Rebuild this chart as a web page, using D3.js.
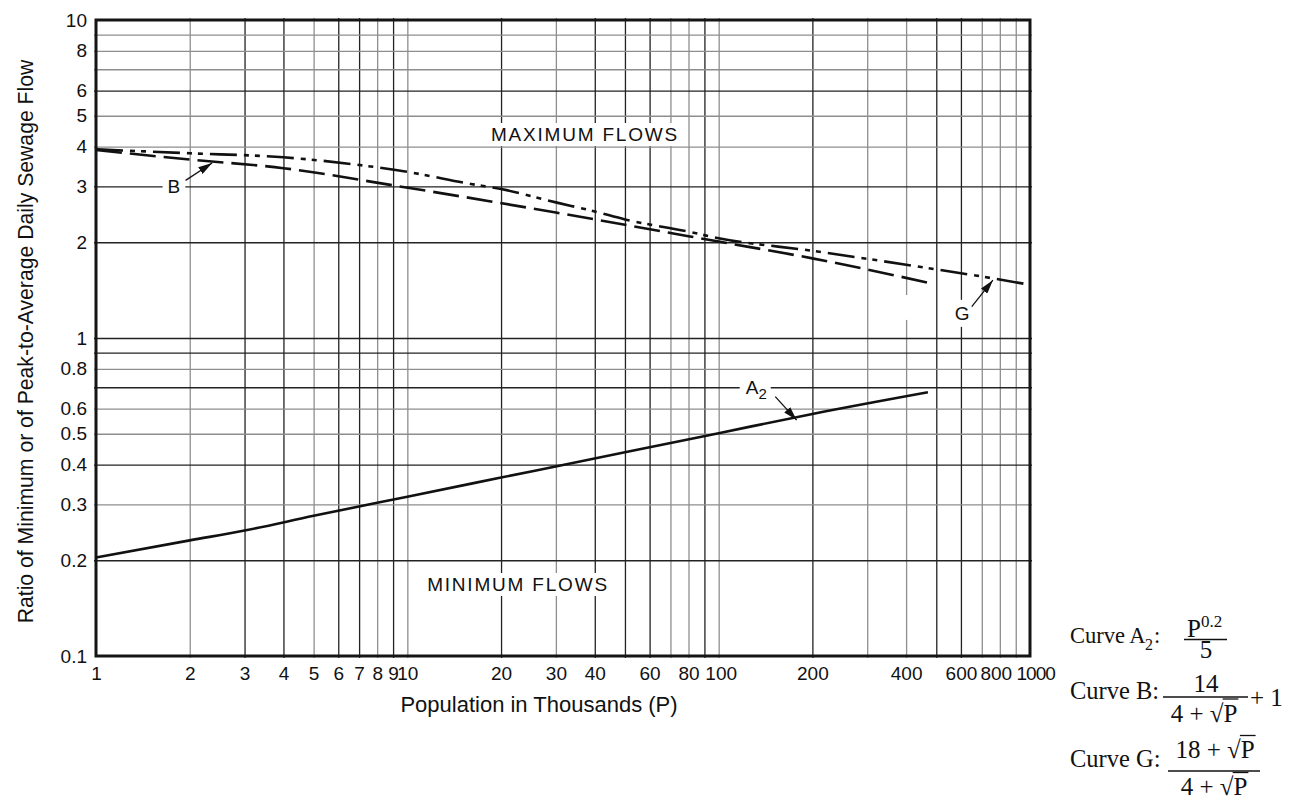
<!DOCTYPE html>
<html><head><meta charset="utf-8">
<script src="https://cdn.jsdelivr.net/npm/d3@7"></script>
<style>body{margin:0;background:#fff} svg{display:block}</style>
</head><body>
<svg id="chart" width="1301" height="806"></svg>
<script>
// ---------------- data ----------------
const xTickValues = [1,2,3,4,5,6,7,8,9,10,20,30,40,60,80,100,200,400,600,800,1000];
const xGridValues = [2,3,4,5,6,7,8,9,10,20,30,40,50,60,70,80,90,100,200,300,400,500,600,700,800,900];
const yTickValues = [0.1,0.2,0.3,0.4,0.5,0.6,0.8,1,2,3,4,5,6,8,10];
const yGridValues = [0.2,0.3,0.4,0.5,0.6,0.7,0.8,0.9,1,2,3,4,5,6,7,8,9];

const curveA2P = [1,2,3,5,10,20,50,100,200,470];
const curveA2V = [0.204,0.231,0.248,0.276,0.317,0.364,0.437,0.502,0.577,0.675];
const curveBP  = [1,2,4,9,30,50,100,200,490];
const curveBV  = [3.9,3.64,3.42,3.02,2.48,2.27,2.01,1.78,1.48];
const curveGP  = [1,2,4,7,10,16,20,30,40,50,80,100,200,400,760,1000];
const curveGV  = [3.92,3.81,3.70,3.50,3.33,3.05,2.94,2.67,2.50,2.36,2.16,2.06,1.88,1.70,1.54,1.47];

const xTitle = "Population in Thousands (P)";
const yTitle = "Ratio of Minimum or of Peak-to-Average Daily Sewage Flow";
const maxLabel = "MAXIMUM FLOWS";
const minLabel = "MINIMUM FLOWS";

// ---------------- styling ----------------
const darkX = new Set([3,4,6,7,9,20,40,50,60,90,200,500,600]);
const darkY = new Set([6,3,2,1,0.9,0.7,0.4,0.2]);
const DARK = "#222", GREY = "#8e8e8e";
const SANS = "'Liberation Sans', Arial, Helvetica, sans-serif";
const SERIF = "'Liberation Serif', 'Times New Roman', serif";

const svg = d3.select("#chart");
const x = d3.scaleLog().domain([1,1000]).range([96,1030]);
const y = d3.scaleLog().domain([0.1,10]).range([656,20]);
const [L,R] = x.range(), [B,T] = y.range();

// ---------------- grid ----------------
const gGridX = svg.append("g").attr("transform",`translate(0,${B+2})`)
  .call(d3.axisBottom(x).tickValues(xGridValues).tickFormat("").tickSize(-(B-T+4)).tickSizeOuter(0));
gGridX.select(".domain").remove();
gGridX.selectAll(".tick line").attr("stroke", d => darkX.has(d) ? DARK : GREY).attr("stroke-width",1.3);

const gGridY = svg.append("g").attr("transform",`translate(${L-2},0)`)
  .call(d3.axisLeft(y).tickValues(yGridValues).tickFormat("").tickSize(-(R-L+4)).tickSizeOuter(0));
gGridY.select(".domain").remove();
gGridY.selectAll(".tick line").attr("stroke", d => darkY.has(d) ? DARK : GREY).attr("stroke-width",1.3);

// scan artifact gap on the 400 line
svg.append("rect").attr("x", x(400)-2).attr("y", y(1.365)).attr("width",4)
  .attr("height", y(1.14)-y(1.365)).attr("fill","#fff");

// ---------------- text labels with white backgrounds ----------------
function boxedText(px, py, str, opts) {
  const g = svg.append("g");
  const t = g.append("text").attr("x",px).attr("y",py).text(str)
    .attr("font-family",SANS).attr("font-size",opts.size).attr("fill","#111")
    .attr("text-anchor",opts.anchor||"middle")
    .attr("letter-spacing",opts.ls||0);
  const bb = t.node().getBBox();
  g.insert("rect","text").attr("x",bb.x-opts.padX).attr("y",bb.y-opts.padY)
    .attr("width",bb.width+2*opts.padX).attr("height",bb.height+2*opts.padY).attr("fill","#fff");
  return t;
}
boxedText(585, 141, maxLabel, {size:19, ls:1.8, padX:3, padY:1});
boxedText(518, 591, minLabel, {size:19, ls:1.8, padX:3, padY:1});

boxedText(x(1.78), y(3)+7, "B", {size:19, padX:5, padY:0});
boxedText(x(605), y(1.2)+7, "G", {size:19, padX:2, padY:3});
(function(){
  const g = svg.append("g");
  const t = g.append("text").attr("x", x(132)).attr("y", y(0.7)+7)
    .attr("font-family",SANS).attr("font-size",19).attr("fill","#111").attr("text-anchor","middle");
  t.append("tspan").text("A");
  t.append("tspan").text("2").attr("font-size",15).attr("dy",5);
  const bb = t.node().getBBox();
  g.insert("rect","text").attr("x",bb.x-6).attr("y",bb.y).attr("width",bb.width+10)
    .attr("height",bb.height).attr("fill","#fff");
})();

// ---------------- frame ----------------
svg.append("rect").attr("x",L).attr("y",T).attr("width",R-L).attr("height",B-T)
  .attr("fill","none").attr("stroke","#151515").attr("stroke-width",3);

// ---------------- curves ----------------
const line = d3.line().x(d=>x(d[0])).y(d=>y(d[1])).curve(d3.curveMonotoneX);
svg.append("path").datum(d3.zip(curveA2P,curveA2V)).attr("d",line)
  .attr("fill","none").attr("stroke","#111").attr("stroke-width",2.6);
svg.append("path").datum(d3.zip(curveBP,curveBV)).attr("d",line)
  .attr("fill","none").attr("stroke","#111").attr("stroke-width",2.6)
  .attr("stroke-dasharray","26,8");
svg.append("path").datum(d3.zip(curveGP,curveGV)).attr("d",line)
  .attr("fill","none").attr("stroke","#111").attr("stroke-width",2.6)
  .attr("stroke-dasharray","27,7,5,6,5,7");

// ---------------- arrows ----------------
svg.append("defs").append("marker").attr("id","ah")
  .attr("viewBox","0 0 14 8").attr("refX",14).attr("refY",4)
  .attr("markerWidth",14).attr("markerHeight",8).attr("markerUnits","userSpaceOnUse")
  .attr("orient","auto")
  .append("path").attr("d","M0,0 L14,4 L0,8 Z").attr("fill","#111");
function arrow(p0,v0,p1,v1){
  svg.append("line").attr("x1",x(p0)).attr("y1",y(v0)).attr("x2",x(p1)).attr("y2",y(v1))
    .attr("stroke","#111").attr("stroke-width",1.3).attr("marker-end","url(#ah)");
}
arrow(1.94,3.13, 2.36,3.55);   // B
arrow(650,1.255, 760,1.52);    // G
arrow(152,0.654, 178,0.552);   // A2

// ---------------- tick labels ----------------
const ax = svg.append("g").attr("transform",`translate(0,${B})`)
  .call(d3.axisBottom(x).tickValues(xTickValues).tickFormat(d=>String(d)).tickSize(0).tickPadding(11));
ax.select(".domain").remove();
ax.selectAll("text").attr("font-family",SANS).attr("font-size",19).attr("fill","#111");
ax.selectAll(".tick").filter(d => d === 100).select("text").attr("x", 2);
ax.selectAll(".tick").filter(d => d === 800).select("text").attr("x", -4);
ax.selectAll(".tick").filter(d => d === 1000).select("text")
  .attr("text-anchor","start").attr("x", 1016 - x(1000)).attr("letter-spacing",-1);

const ay = svg.append("g").attr("transform",`translate(${L},0)`)
  .call(d3.axisLeft(y).tickValues(yTickValues).tickFormat(d=>String(d)).tickSize(0).tickPadding(9));
ay.select(".domain").remove();
ay.selectAll("text").attr("font-family",SANS).attr("font-size",19).attr("fill","#111");

// ---------------- axis titles ----------------
svg.append("text").attr("x",539).attr("y",712).attr("text-anchor","middle")
  .attr("font-family",SANS).attr("font-size",22).attr("fill","#111").text(xTitle);
svg.append("text").attr("transform",`translate(33,341.5) rotate(-90)`).attr("text-anchor","middle")
  .attr("font-family",SANS).attr("font-size",21.2).attr("fill","#111").text(yTitle);

// ---------------- formulas ----------------
const FF = 25;
function serif(px, py, fs, anchor){
  return svg.append("text").attr("x",px).attr("y",py).attr("text-anchor",anchor||"start")
    .attr("font-family",SERIF).attr("font-size",fs).attr("fill","#111");
}
function bar(x1,x2,yy){
  svg.append("line").attr("x1",x1).attr("x2",x2).attr("y1",yy).attr("y2",yy)
    .attr("stroke","#111").attr("stroke-width",1.5);
}
function sqrtOver(t, fs){
  const node = t.node(); const s = node.textContent;
  const i = s.indexOf("√");
  const e1 = node.getExtentOfChar(i), e2 = node.getExtentOfChar(s.length-1);
  const base = +t.attr("y");
  const yy = base - 0.9*fs;
  svg.append("line").attr("x1",e1.x+e1.width-0.8).attr("x2",e2.x+e2.width+1)
    .attr("y1",yy).attr("y2",yy).attr("stroke","#111").attr("stroke-width",1.3);
}
// Curve A2
serif(1070, 643, 22.5).text("Curve A");
serif(1145, 650, 16).text("2");
serif(1154, 643, 22.5).text(":");
(function(){
  const n = serif(1187, 636.5, FF);
  n.append("tspan").text("P");
  n.append("tspan").text("0.2").attr("font-size",17).attr("dy",-10);
  bar(1184,1227,639.5);
  serif(1206, 658, FF, "middle").text("5");
})();
// Curve B
serif(1070, 699, 24.5).text("Curve B:");
serif(1206, 691.5, FF, "middle").text("14");
bar(1163,1248,697);
sqrtOver(serif(1204, 721.5, FF, "middle").text("4 + √P"), FF);
serif(1250, 706, FF).text("+ 1");
// Curve G
serif(1070, 767, 24.5).text("Curve G:");
sqrtOver(serif(1215, 758, FF, "middle").text("18 + √P"), FF);
bar(1168,1260,771);
sqrtOver(serif(1214, 795, FF, "middle").text("4 + √P"), FF);
</script>
</body></html>
